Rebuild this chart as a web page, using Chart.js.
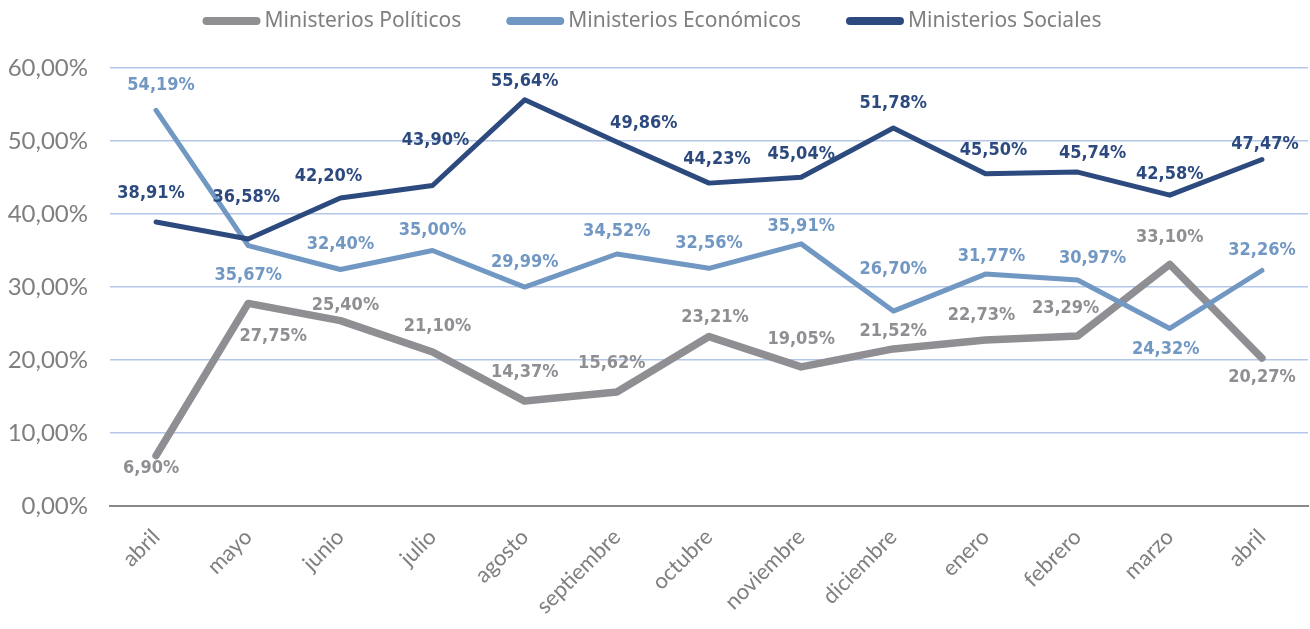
<!DOCTYPE html>
<html lang="es">
<head>
<meta charset="utf-8">
<title>Ministerios</title>
<script src="https://cdn.jsdelivr.net/npm/chart.js@4.4.1/dist/chart.umd.min.js"></script>
<style>
  html, body { margin: 0; padding: 0; background: #fff; }
  #wrap { width: 1310px; height: 629px; position: relative; }
</style>
</head>
<body>
<div id="wrap"><canvas id="chart"></canvas></div>
<script>
// months on the x axis
const months = ["abril", "mayo", "junio", "julio", "agosto", "septiembre", "octubre",
  "noviembre", "diciembre", "enero", "febrero", "marzo", "abril"];
// series values (percent)
const politicos = [6.90, 27.75, 25.40, 21.10, 14.37, 15.62, 23.21, 19.05, 21.52, 22.73, 23.29, 33.10, 20.27];
const economicos = [54.19, 35.67, 32.40, 35.00, 29.99, 34.52, 32.56, 35.91, 26.70, 31.77, 30.97, 24.32, 32.26];
const sociales = [38.91, 36.58, 42.20, 43.90, 55.64, 49.86, 44.23, 45.04, 51.78, 45.50, 45.74, 42.58, 47.47];
// y axis ticks
const yTicks = [0, 10, 20, 30, 40, 50, 60];

const seriesNames = ["Ministerios Políticos", "Ministerios Económicos", "Ministerios Sociales"];

// colours
const grayColor = "#8e8e93";
const lightBlue = "#7197c3";
const navy = "#2d4a7f";
const textGray = "#7f7f7f";

// label nudges from each point, [dx, dy] in px
const labelNudges = [
  [[-5, 13], [25, 33], [5, -15], [5, -26], [0, -29], [-5, -29], [6, -19], [0, -28], [0, -18], [-4, -25], [-12, -28], [0, -27], [0, 19]],
  [[5, -25], [0, 30], [0, -25], [0, -20], [0, -25], [0, -23], [0, -25], [0, -18], [0, -42], [6, -18], [15, -22], [-4, 21], [0, -20]],
  [[-5, -29], [-2, -42], [-12, -22], [3, -45], [0, -18], [27, -19], [8, -24], [0, -23], [0, -25], [8, -24], [15, -19], [0, -21], [3, -15]]
];

function fmt(v) {
  return v.toFixed(2).replace(".", ",") + "%";
}

// draw the value labels next to each point
const pointLabels = {
  id: "pointLabels",
  afterDatasetsDraw(chart) {
    const ctx = chart.ctx;
    chart.data.datasets.forEach((ds, di) => {
      const meta = chart.getDatasetMeta(di);
      ctx.save();
      ctx.font = 'bold 18px "Liberation Sans Narrow", "DejaVu Sans Condensed", sans-serif';
      ctx.fillStyle = ds.borderColor;
      ctx.textAlign = "center";
      ctx.textBaseline = "middle";
      meta.data.forEach((pt, i) => {
        const n = labelNudges[di][i];
        ctx.fillText(fmt(ds.data[i]), pt.x + n[0], pt.y + n[1]);
      });
      ctx.restore();
    });
  }
};

// legend drawn by hand so the spacing matches
const topLegend = {
  id: "topLegend",
  afterDraw(chart) {
    const ctx = chart.ctx;
    const symW = 58, gap = 4, itemGap = 45, y = 21;
    ctx.save();
    ctx.font = '21px "Noto Sans", sans-serif';
    const items = chart.data.datasets.map(ds => ({
      label: ds.label, color: ds.borderColor, w: ctx.measureText(ds.label).width
    }));
    let total = items.reduce((s, it) => s + symW + gap + it.w, 0) + itemGap * (items.length - 1);
    let x = 652 - total / 2;
    items.forEach(it => {
      ctx.strokeStyle = it.color;
      ctx.lineWidth = 8;
      ctx.lineCap = "round";
      ctx.beginPath();
      ctx.moveTo(x + 4, y);
      ctx.lineTo(x + symW - 4, y);
      ctx.stroke();
      ctx.fillStyle = textGray;
      ctx.textAlign = "left";
      ctx.textBaseline = "middle";
      ctx.fillText(it.label, x + symW + gap, y);
      x += symW + gap + it.w + itemGap;
    });
    ctx.restore();
  }
};

const data = {
  labels: months,
  datasets: [
    { label: seriesNames[0], data: politicos, borderColor: grayColor, borderWidth: 7.5, order: 3 },
    { label: seriesNames[1], data: economicos, borderColor: lightBlue, borderWidth: 5, order: 2 },
    { label: seriesNames[2], data: sociales, borderColor: navy, borderWidth: 5, order: 1 }
  ]
};

new Chart(document.getElementById("chart"), {
  type: "line",
  data,
  plugins: [pointLabels, topLegend],
  options: {
    responsive: true,
    maintainAspectRatio: false,
    animation: false,
    layout: { padding: { top: 68, left: 0, right: 2, bottom: 0 } },
    elements: {
      point: { radius: 0, hoverRadius: 0 },
      line: { tension: 0, borderJoinStyle: "round", borderCapStyle: "round", fill: false }
    },
    plugins: {
      legend: { display: false },
      tooltip: { enabled: false }
    },
    scales: {
      x: {
        offset: true,
        grid: { display: false },
        border: { display: true, color: "#898989", width: 2 },
        ticks: {
          color: textGray,
          font: { family: "Lato, sans-serif", size: 22 },
          minRotation: 45,
          maxRotation: 45,
          padding: 10
        },
        afterFit(scale) { scale.height = 123; }
      },
      y: {
        min: 0,
        max: 60,
        afterBuildTicks(scale) { scale.ticks = yTicks.map(v => ({ value: v })); },
        grid: {
          drawTicks: false,
          lineWidth: 1.5,
          color: ctx => (ctx.tick && ctx.tick.value === 0 ? "rgba(0,0,0,0)" : "#b4c7e7")
        },
        border: { display: false },
        ticks: {
          color: textGray,
          font: { family: "Lato, sans-serif", size: 24 },
          padding: 22,
          callback: v => fmt(v)
        },
        afterFit(scale) { scale.width = 110; }
      }
    }
  }
});
</script>
</body>
</html>
